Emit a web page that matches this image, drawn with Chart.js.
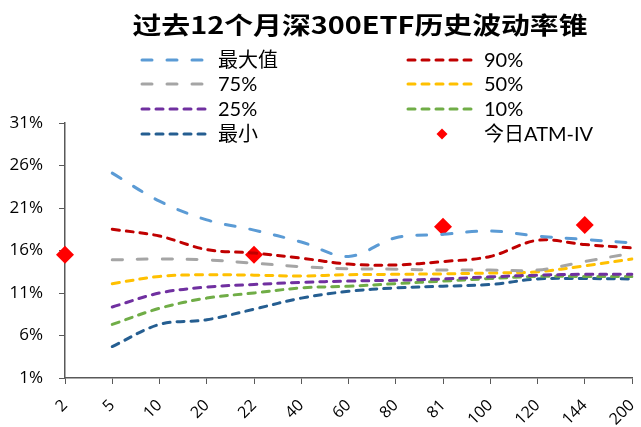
<!DOCTYPE html>
<html>
<head>
<meta charset="utf-8">
<script src="https://cdn.jsdelivr.net/npm/chart.js@4/dist/chart.umd.min.js"></script>
<style>
  html, body { margin: 0; padding: 0; background: #fff; }
  #wrap { width: 641px; height: 427px; }
</style>
</head>
<body>
<div id="wrap"><canvas id="cone"></canvas></div>
<script>
// 期限(天)
const categories = ['2', '5', '10', '20', '22', '40', '60', '80', '81', '100', '120', '144', '200'];
// 波动率锥 (%)
const maxVol = [null, 25.1, 21.8, 19.6, 18.4, 17.0, 15.3, 17.5, 17.9, 18.3, 17.7, 17.3, 16.9];
const p90    = [null, 18.5, 17.7, 16.1, 15.7, 15.1, 14.4, 14.3, 14.7, 15.3, 17.2, 16.7, 16.3];
const p75    = [null, 14.9, 15.0, 14.9, 14.5, 14.1, 13.85, 13.8, 13.7, 13.7, 13.7, 14.7, 15.7];
const p50    = [null, 12.1, 12.95, 13.15, 13.1, 13.0, 13.15, 13.2, 13.25, 13.35, 13.5, 14.2, 15.0];
const p25    = [null, 9.35, 11.0, 11.7, 12.0, 12.25, 12.4, 12.5, 12.65, 12.9, 13.1, 13.2, 13.2];
const p10    = [null, 7.3, 9.2, 10.4, 11.0, 11.6, 11.8, 12.1, 12.4, 12.7, 12.95, 12.95, 12.95];
const minVol = [null, 4.7, 7.3, 7.85, 9.1, 10.4, 11.2, 11.6, 11.8, 12.0, 12.65, 12.7, 12.65];
const atmIV  = [15.5, null, null, null, 15.5, null, null, null, 18.8, null, null, 19.0, null];
const yTicks = [1, 6, 11, 16, 21, 26, 31];

const titleText = '过去12个月深300ETF历史波动率锥';
const txtFont = "Lato, 'Noto Sans CJK SC', sans-serif";
const tickFont = "'Open Sans', sans-serif";

function dashed(label, data, color, dash) {
    return {
        type: 'line',
        label: label,
        data: data,
        borderColor: color,
        backgroundColor: color,
        borderWidth: 3,
        borderDash: dash,
        borderCapStyle: 'round',
        tension: 0.35,
        pointRadius: 0,
        pointHoverRadius: 0,
        fill: false
    };
}

const longDash = [10, 15];
const shortDash = [7, 7];

// legend + title drawn by hand to get the 2-column layout
const coneLegend = {
    id: 'coneLegend',
    afterDraw(chart) {
        const ctx = chart.ctx;
        ctx.save();
        ctx.fillStyle = '#000';
        ctx.font = "bold 24px 'Noto Sans CJK SC', sans-serif";
        ctx.textAlign = 'center';
        ctx.textBaseline = 'middle';
        const tw = ctx.measureText(titleText).width;
        ctx.save();
        ctx.translate(360, 25);
        ctx.scale(455 / tw, 1);
        ctx.fillText(titleText, 0, 0);
        ctx.restore();

        const cols = [{ x0: 142, x1: 212, tx: 218 }, { x0: 408, x1: 478, tx: 484 }];
        const rows = [60, 84, 109, 134];
        chart.data.datasets.forEach(function (ds, i) {
            const c = cols[i % 2];
            const y = rows[Math.floor(i / 2)];
            if (ds.pointStyle === 'rectRot') {
                ctx.fillStyle = ds.backgroundColor;
                ctx.beginPath();
                ctx.moveTo(442, y - 5.5);
                ctx.lineTo(447.5, y);
                ctx.lineTo(442, y + 5.5);
                ctx.lineTo(436.5, y);
                ctx.closePath();
                ctx.fill();
            } else {
                ctx.strokeStyle = ds.borderColor;
                ctx.lineWidth = 3;
                ctx.lineCap = 'round';
                ctx.setLineDash(ds.borderDash);
                ctx.beginPath();
                ctx.moveTo(c.x0, y);
                ctx.lineTo(c.x1, y);
                ctx.stroke();
                ctx.setLineDash([]);
            }
            ctx.fillStyle = '#000';
            ctx.font = '20px ' + txtFont;
            ctx.textAlign = 'left';
            ctx.fillText(ds.label, c.tx, y + 1);
        });
        ctx.restore();
    }
};

new Chart(document.getElementById('cone'), {
    data: {
        labels: categories,
        datasets: [
            dashed('最大值', maxVol, '#5B9BD5', longDash),
            dashed('90%', p90, '#C00000', shortDash),
            dashed('75%', p75, '#A5A5A5', longDash),
            dashed('50%', p50, '#FFC000', shortDash),
            dashed('25%', p25, '#7030A0', shortDash),
            dashed('10%', p10, '#70AD47', shortDash),
            dashed('最小', minVol, '#255E91', shortDash),
            {
                type: 'line',
                label: '今日ATM-IV',
                data: atmIV,
                showLine: false,
                pointStyle: 'rectRot',
                pointRadius: 9,
                pointHoverRadius: 9,
                borderWidth: 0,
                backgroundColor: '#FF0000',
                borderColor: '#FF0000'
            }
        ]
    },
    options: {
        responsive: true,
        maintainAspectRatio: false,
        animation: false,
        layout: {
            padding: { top: 123, right: 5, left: 0, bottom: 0 }
        },
        scales: {
            x: {
                type: 'category',
                offset: false,
                grid: {
                    display: true,
                    drawOnChartArea: false,
                    drawTicks: true,
                    tickLength: 6,
                    color: '#595959'
                },
                border: { display: true, color: '#595959', width: 1.5 },
                ticks: {
                    color: '#000',
                    font: { family: tickFont, size: 16 },
                    maxRotation: 45,
                    minRotation: 45,
                    autoSkip: false,
                    padding: 12
                },
                afterFit: function (scale) {
                    scale.height = 49;
                    scale.paddingLeft = 0;
                    scale.paddingRight = 0;
                }
            },
            y: {
                min: 1,
                max: 31,
                afterBuildTicks: function (scale) {
                    scale.ticks = yTicks.map(function (v) { return { value: v }; });
                },
                grid: {
                    display: true,
                    drawOnChartArea: false,
                    drawTicks: true,
                    tickLength: 6,
                    color: '#595959'
                },
                border: { display: true, color: '#595959', width: 1.5 },
                ticks: {
                    color: '#000',
                    font: { family: tickFont, size: 17 },
                    padding: 16,
                    callback: function (v) { return v + '%'; }
                },
                afterFit: function (scale) { scale.width = 65; }
            }
        },
        plugins: {
            legend: { display: false },
            title: { display: false },
            tooltip: { enabled: false }
        }
    },
    plugins: [coneLegend]
});
</script>
</body>
</html>
